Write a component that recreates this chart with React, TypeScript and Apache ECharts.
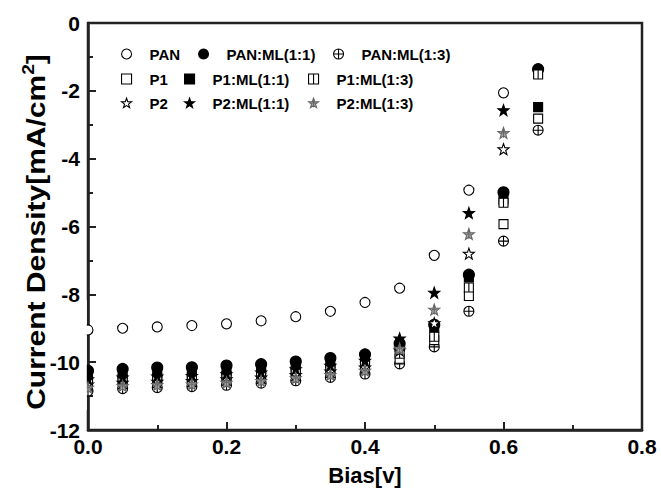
import React, { useEffect, useRef } from 'react';
import * as echarts from 'echarts';

// Bias values (V)
const bias = [0, 0.05, 0.1, 0.15, 0.2, 0.25, 0.3, 0.35, 0.4, 0.45, 0.5, 0.55, 0.6, 0.65];

// Current density (mA/cm2) per sample
const pan = [-9.05, -9.0, -8.96, -8.92, -8.87, -8.78, -8.66, -8.5, -8.24, -7.82, -6.85, -4.93, -2.06];
const panMl11 = [-10.25, -10.2, -10.16, -10.15, -10.1, -10.06, -9.98, -9.88, -9.77, -9.45, -8.9, -7.42, -4.99, -1.36];
const panMl13 = [-10.85, -10.78, -10.75, -10.72, -10.68, -10.62, -10.55, -10.45, -10.35, -10.05, -9.55, -8.5, -6.43, -3.16];
const p1 = [-10.55, -10.5, -10.47, -10.45, -10.4, -10.35, -10.27, -10.18, -10.05, -9.9, -9.35, -8.05, -5.93, -2.82];
const p1Ml11 = [-10.4, -10.35, -10.32, -10.3, -10.26, -10.2, -10.12, -10.02, -9.9, -9.55, -9.0, -7.5, -5.2, -2.48];
const p1Ml13 = [-10.6, -10.55, -10.52, -10.5, -10.45, -10.4, -10.32, -10.22, -10.1, -9.75, -9.25, -7.8, -5.3, -1.52];
const p2 = [-10.65, -10.6, -10.57, -10.55, -10.5, -10.45, -10.37, -10.27, -10.15, -9.65, -8.85, -6.8, -3.72];
const p2Ml11 = [-10.5, -10.45, -10.42, -10.4, -10.35, -10.3, -10.2, -10.1, -9.95, -9.3, -7.95, -5.6, -2.57];
const p2Ml13 = [-10.75, -10.7, -10.67, -10.65, -10.6, -10.55, -10.47, -10.37, -10.25, -9.6, -8.45, -6.22, -3.24];

const seriesNames = ['PAN', 'PAN:ML(1:1)', 'PAN:ML(1:3)', 'P1', 'P1:ML(1:1)', 'P1:ML(1:3)', 'P2', 'P2:ML(1:1)', 'P2:ML(1:3)'];
const seriesValues = [pan, panMl11, panMl13, p1, p1Ml11, p1Ml13, p2, p2Ml11, p2Ml13];
const legendRows = [
  ['PAN', 'PAN:ML(1:1)', 'PAN:ML(1:3)'],
  ['P1', 'P1:ML(1:1)', 'P1:ML(1:3)'],
  ['P2', 'P2:ML(1:1)', 'P2:ML(1:3)'],
];
const yTitle = 'Current Density[mA/cm';
const yTitleSup = '2';
const xTitle = 'Bias[v]';

function starPath(): string {
  const pts: string[] = [];
  for (let i = 0; i < 10; i++) {
    const a = (-90 + i * 36) * Math.PI / 180;
    const r = i % 2 === 0 ? 10 : 4;
    pts.push(`${(10 + r * Math.cos(a)).toFixed(2)},${(10 + r * Math.sin(a)).toFixed(2)}`);
  }
  return 'M' + pts.join('L') + 'Z';
}
const STAR = starPath();
const SQUARE = 'M0,0L20,0L20,20L0,20Z';

const symbols: Record<string, { symbol: string; size: number; fill: string; stroke: string }> = {
  'PAN': { symbol: 'circle', size: 10, fill: '#ffffff', stroke: '#000000' },
  'PAN:ML(1:1)': { symbol: 'circle', size: 11, fill: '#000000', stroke: '#000000' },
  'PAN:ML(1:3)': { symbol: 'path://M20,10A10,10,0,1,1,0,10A10,10,0,1,1,20,10Z M0,10L20,10 M10,0L10,20', size: 10, fill: '#ffffff', stroke: '#000000' },
  'P1': { symbol: 'path://' + SQUARE, size: 9, fill: '#ffffff', stroke: '#000000' },
  'P1:ML(1:1)': { symbol: 'path://' + SQUARE, size: 9, fill: '#000000', stroke: '#000000' },
  'P1:ML(1:3)': { symbol: 'path://' + SQUARE + ' M10,0L10,20', size: 9, fill: '#ffffff', stroke: '#000000' },
  'P2': { symbol: 'path://' + STAR, size: 11, fill: '#ffffff', stroke: '#000000' },
  'P2:ML(1:1)': { symbol: 'path://' + STAR, size: 11, fill: '#000000', stroke: '#000000' },
  'P2:ML(1:3)': { symbol: 'path://' + STAR + ' M10,2L10,17 M6,9L14,9', size: 11, fill: '#a8a8a8', stroke: '#666666' },
};

// legend icon centre x per row/column (layout only)
const legendIconX = [
  [126, 203, 338],
  [126, 189, 313],
  [126, 189, 313],
];
const legendRowY = [54, 79, 103];

const FONT = 'Arial, "Liberation Sans", Helvetica, sans-serif';

export default function App() {
  const ref = useRef<HTMLDivElement>(null);
  useEffect(() => {
    if (!ref.current) return;
    const chart = echarts.init(ref.current, null, { renderer: 'svg' });
    const series = seriesNames.map((name, k) => {
      const s = symbols[name];
      return {
        name,
        type: 'scatter',
        symbol: s.symbol,
        symbolSize: s.size,
        itemStyle: { color: s.fill, borderColor: s.stroke, borderWidth: 1.1, opacity: 1 },
        data: seriesValues[k].map((v, i) => [bias[i], v]),
        emphasis: { disabled: true },
      };
    });
    const legend: any[] = [];
    legendRows.forEach((row, r) => {
      row.forEach((name, c) => {
        legend.push({
          show: true,
          orient: 'horizontal',
          left: legendIconX[r][c] - 5,
          top: legendRowY[r] - 9,
          padding: 0,
          itemWidth: 10,
          itemHeight: 10,
          selectedMode: false,
          textStyle: { fontFamily: FONT, fontSize: 15, fontWeight: 'bold', color: '#000', lineHeight: 18, padding: [0, 0, 0, 13] },
          data: [{
            name,
            icon: symbols[name].symbol,
            itemStyle: { color: symbols[name].fill, borderColor: symbols[name].stroke, borderWidth: 1.1 },
          }],
        });
      });
    });
    const axisCommon = {
      type: 'value',
      axisLine: { show: true, onZero: false, lineStyle: { color: '#222', width: 2.5 } },
      axisTick: { show: true, inside: true, length: 8, lineStyle: { color: '#222', width: 2 } },
      minorTick: { show: true, splitNumber: 2, length: 5, lineStyle: { color: '#222', width: 2 } },
      splitLine: { show: false },
      nameLocation: 'middle',
    };
    chart.setOption({
      animation: false,
      backgroundColor: '#fff',
      grid: { left: 88, right: 19, top: 23, bottom: 59, show: true, borderColor: '#222', borderWidth: 2.5, backgroundColor: 'transparent' },
      legend,
      xAxis: {
        ...axisCommon,
        min: 0,
        max: 0.8,
        interval: 0.2,
        axisLabel: { formatter: (v: number) => v.toFixed(1), fontFamily: FONT, fontSize: 21, fontWeight: 'bold', color: '#000', margin: 6 },
        name: xTitle,
        nameGap: 34,
        nameTextStyle: { fontFamily: FONT, fontSize: 22, fontWeight: 'bold', color: '#000' },
      },
      yAxis: {
        ...axisCommon,
        min: -12,
        max: 0,
        interval: 2,
        axisLabel: { fontFamily: FONT, fontSize: 21, fontWeight: 'bold', color: '#000', margin: 8 },
      },
      graphic: [
        {
          type: 'rect',
          z: 50,
          shape: { x: 81, y: 300, width: 5.8, height: 110 },
          style: { fill: '#ffffff' },
          silent: true,
        },
        {
          type: 'text',
          z: 50,
          x: 36,
          y: 232,
          rotation: Math.PI / 2,
          scaleX: 1.2,
          silent: true,
          style: {
            text: `{a|${yTitle}}{s|${yTitleSup}}{a|]}`,
            align: 'center',
            verticalAlign: 'middle',
            rich: {
              a: { fontFamily: FONT, fontSize: 25, fontWeight: 'bold', fill: '#000', lineHeight: 30 },
              s: { fontFamily: FONT, fontSize: 16, fontWeight: 'bold', fill: '#000', verticalAlign: 'top', lineHeight: 16 },
            },
          },
        },
      ],
      series,
    });
    return () => chart.dispose();
  }, []);
  return <div ref={ref} style={{ position: 'fixed', left: 0, top: 0, width: 661, height: 491 }} />;
}
